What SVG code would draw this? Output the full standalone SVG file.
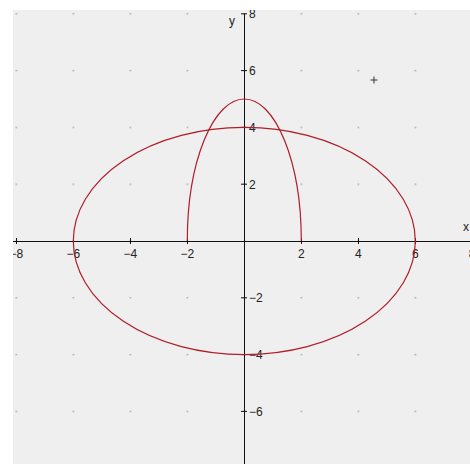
<svg xmlns="http://www.w3.org/2000/svg" width="470" height="464" viewBox="0 0 470 464">
<style>
.lbl{font-family:"Liberation Sans",Arial,sans-serif;font-size:12px;fill:#222}
.ax{stroke:#111;stroke-width:1;fill:none}
.curve{stroke:#b01c28;stroke-width:1.2;fill:none}
</style>
<defs>
<clipPath id="plot"><rect x="13" y="10" width="457" height="454"/></clipPath>
<pattern id="dots" x="15.6" y="13.1" width="57" height="56.8" patternUnits="userSpaceOnUse">
<rect width="1.4" height="1.4" fill="#9c9c9c"/>
</pattern>
</defs>
<rect width="470" height="464" fill="#ffffff"/>
<g clip-path="url(#plot)">
<rect x="13" y="10" width="457" height="454" fill="#efefef"/>
<rect x="13" y="10" width="457" height="454" fill="url(#dots)"/>
<g id="axes">
<path class="ax" d="M13 241.5H470M244.5 13.8V464"/>
<path class="ax" d="M16.5 238v6M73.5 238v6M130.5 238v6M187.5 238v6M301.5 238v6M358.5 238v6M415.5 238v6M241 13.8h6M241 70.6h6M241 127.4h6M241 184.2h6M241 297.8h6M241 354.6h6M241 411.4h6"/>
</g>
<g id="labels" class="lbl">
<text x="16.3" y="258" text-anchor="middle">−8</text>
<text x="73.3" y="258" text-anchor="middle">−6</text>
<text x="130.3" y="258" text-anchor="middle">−4</text>
<text x="187.3" y="258" text-anchor="middle">−2</text>
<text x="301.3" y="258" text-anchor="middle">2</text>
<text x="358.3" y="258" text-anchor="middle">4</text>
<text x="415.3" y="258" text-anchor="middle">6</text>
<text x="472" y="258" text-anchor="middle">8</text>
<text x="249" y="18.1">8</text>
<text x="249" y="74.9">6</text>
<text x="249" y="131.7">4</text>
<text x="249" y="188.5">2</text>
<text x="249" y="302.1">−2</text>
<text x="249" y="358.9">−4</text>
<text x="249" y="415.7">−6</text>
<text x="229" y="24.5">y</text>
<text x="463" y="230.5">x</text>
</g>
<g id="curves">
<ellipse id="ellipse" class="curve" cx="244.3" cy="241" rx="171" ry="113.6"/>
<path id="arch" class="curve" d="M187.3 241A57 142 0 0 1 301.3 241"/>
</g>
<path id="marker" d="M374 76.5v7M370.5 80h7" stroke="#333" stroke-width="1" fill="none"/>
</g>
</svg>
